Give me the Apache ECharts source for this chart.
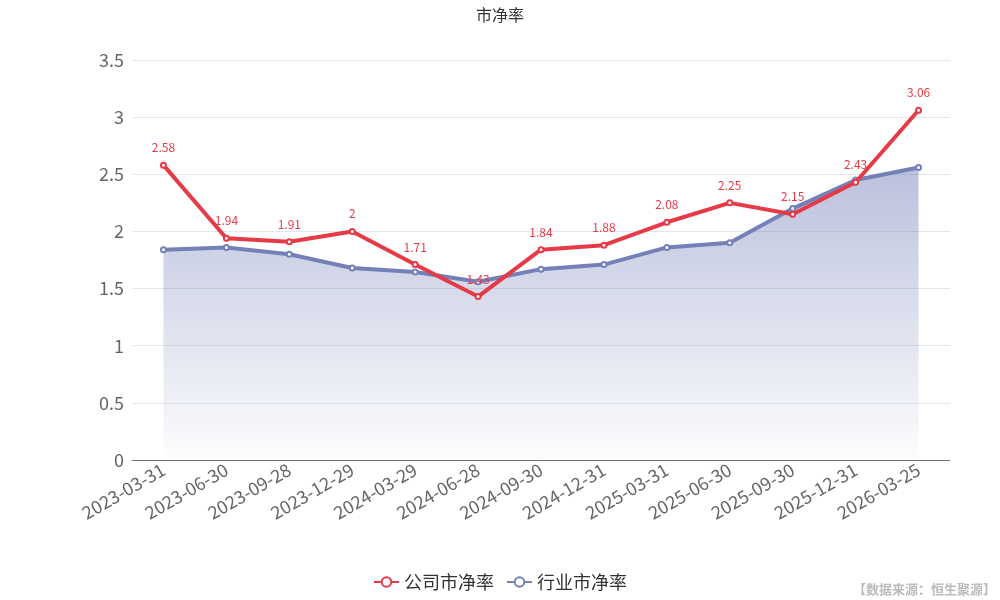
<!DOCTYPE html>
<html><head><meta charset="utf-8">
<script src="https://cdn.jsdelivr.net/npm/echarts@6/dist/echarts.min.js"></script>
<style>html,body{margin:0;padding:0;background:#fff}#c{width:1000px;height:600px}</style>
</head><body><div id="c"></div>
<script>
const categories = ['2023-03-31','2023-06-30','2023-09-28','2023-12-29','2024-03-29','2024-06-28','2024-09-30','2024-12-31','2025-03-31','2025-06-30','2025-09-30','2025-12-31','2026-03-25'];
const companyPB = [2.58,1.94,1.91,2,1.71,1.43,1.84,1.88,2.08,2.25,2.15,2.43,3.06];
const industryPB = [1.84,1.86,1.80,1.68,1.645,1.56,1.67,1.71,1.86,1.90,2.20,2.45,2.56];
const yTicks = [0,0.5,1,1.5,2,2.5,3,3.5];
const font = '"Noto Sans CJK SC","Noto Sans",sans-serif';
const RED = '#e63a47', BLUE = '#7480b8';
const chart = echarts.init(document.getElementById('c'));
chart.setOption({
  animation:false,
  color:[RED,BLUE],
  textStyle:{fontFamily:font},
  title:{text:'市净率',left:'center',top:2,textStyle:{fontSize:16,fontWeight:'normal',color:'#333',fontFamily:font}},
  legend:{bottom:4,left:'center',itemWidth:25,itemHeight:12,itemGap:12,lineStyle:{width:2},itemStyle:{borderWidth:2},
    textStyle:{fontSize:18,color:'#333',fontFamily:font}},
  graphic:[{type:'text',right:4,bottom:4,style:{text:'【数据来源：恒生聚源】',fill:'#bbb',fontSize:13,fontFamily:font,fontWeight:'bold'}}],
  grid:{left:132,right:50,top:60,bottom:140},
  xAxis:{type:'category',data:categories,boundaryGap:true,
    axisLine:{lineStyle:{color:'#777'}},axisTick:{lineStyle:{color:'#888'}},
    axisLabel:{rotate:30,fontSize:18,color:'#666',interval:0,margin:8}},
  yAxis:{type:'value',min:yTicks[0],max:yTicks[yTicks.length-1],interval:0.5,
    axisLine:{show:false},axisTick:{show:false},
    axisLabel:{fontSize:18,color:'#666',margin:8},
    splitLine:{lineStyle:{color:'#e3e6f0'}}},
  series:[
    {name:'公司市净率',type:'line',data:companyPB,z:3,symbol:'emptyCircle',symbolSize:5,
     lineStyle:{width:4},
     itemStyle:{borderWidth:1.5},
     label:{show:true,position:'top',color:RED,fontSize:12,distance:8}},
    {name:'行业市净率',type:'line',data:industryPB,z:2,symbol:'emptyCircle',symbolSize:5,
     lineStyle:{width:4},
     itemStyle:{borderWidth:1.5},
     areaStyle:{color:new echarts.graphic.LinearGradient(0,0,0,1,[{offset:0,color:'rgba(116,128,184,0.7)'},{offset:1,color:'rgba(116,128,184,0.02)'}]),origin:'start'}}
  ]
});
</script></body></html>
